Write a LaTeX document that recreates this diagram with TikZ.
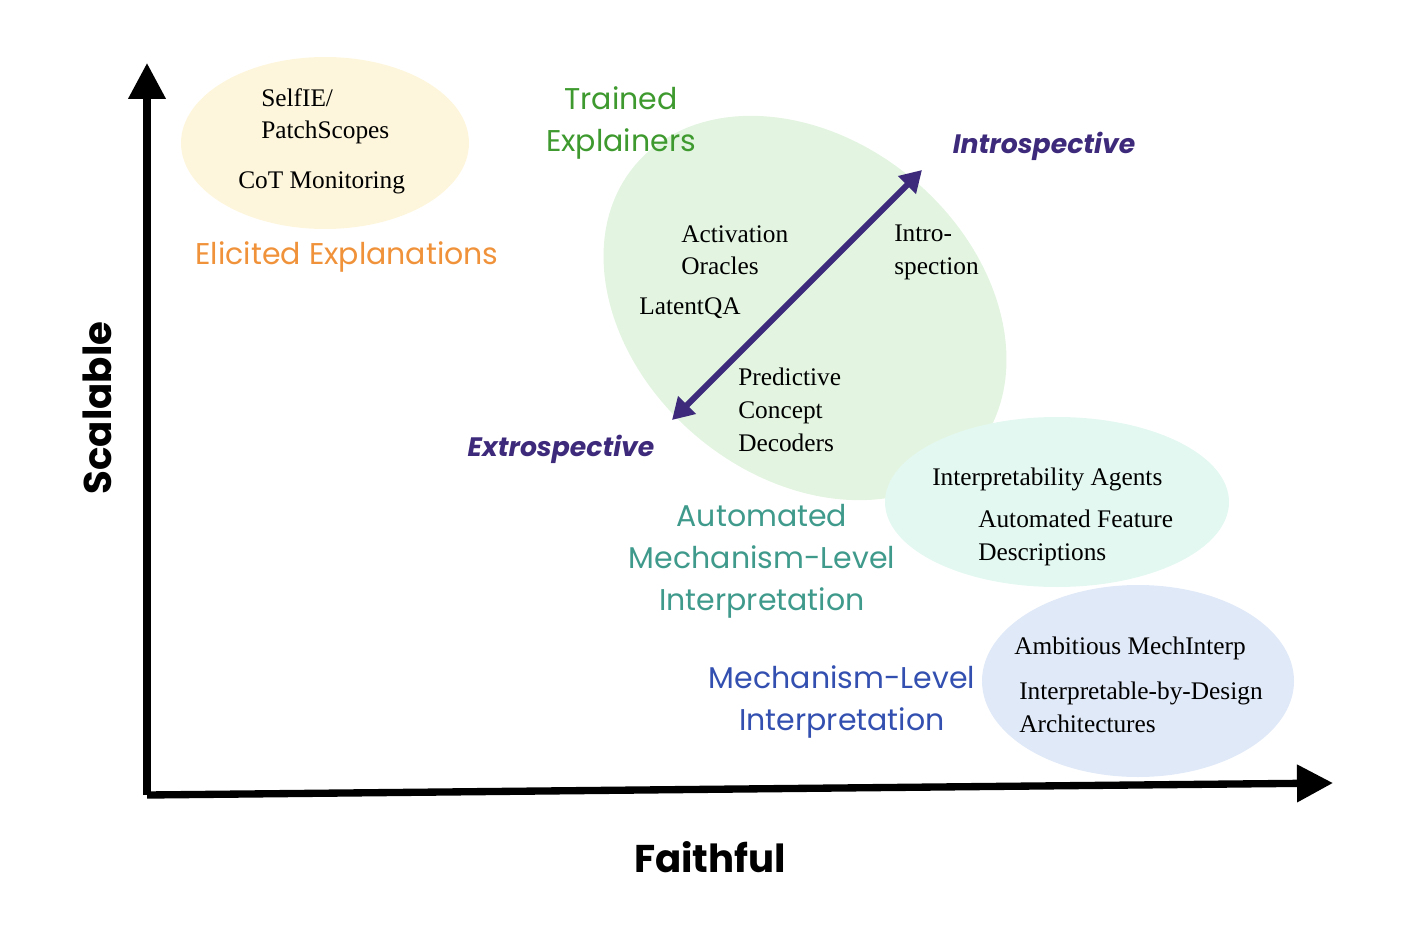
\documentclass[tikz,border=0pt]{standalone}
\usepackage{fontspec}
\setmainfont{Liberation Serif}
\newfontfamily\lab{Poppins}
\usetikzlibrary{arrows.meta}
\definecolor{orng}{HTML}{F0923A}
\definecolor{grn}{HTML}{3E9A2E}
\definecolor{teal1}{HTML}{3F9A8C}
\definecolor{blu}{HTML}{3350B0}
\definecolor{purp}{HTML}{3D2A7A}
\tikzset{
 ser/.style={font=\fontsize{19}{24.5}\selectfont,align=left,anchor=north west,inner sep=0pt},
 cat/.style={font=\lab\fontsize{22.5}{31.5}\selectfont,align=center,inner sep=0pt},
 pole/.style={font=\lab\bfseries\itshape\fontsize{20}{24}\selectfont,text=purp,inner sep=0pt},
 axis/.style={line width=5.5pt,-{Triangle[length=27pt,width=27pt]}},
}
\begin{document}
\begin{tikzpicture}[x=0.75pt,y=-0.75pt]
\useasboundingbox (0,0) rectangle (1401,930);
\fill[fill={rgb,255:red,253;green,246;blue,220}] (325,143) ellipse [x radius=144,y radius=86];
\fill[fill={rgb,255:red,227;green,245;blue,225},rotate around={-40:(805,308)}] (805,308) ellipse [x radius=222,y radius=168];
\fill[fill={rgb,255:red,227;green,248;blue,240}] (1057,502) ellipse [x radius=172,y radius=85];
\fill[fill={rgb,255:red,224;green,233;blue,247}] (1138,681) ellipse [x radius=156,y radius=96];
\coordinate (o) at (147,795);
\coordinate (yt) at (147,63);
\coordinate (xt) at (1333,783);
\draw[axis] (o) -- (yt);
\draw[axis] (o) -- (xt);
\node[font=\lab\bfseries\fontsize{29}{34}\selectfont] (fx) at (710,857) {Faithful};
\node[font=\lab\bfseries\fontsize{29}{34}\selectfont,rotate=90] (sy) at (97,408) {Scalable};
\node[ser] (s1) at (261,88) {SelfIE/\\PatchScopes};
\node[ser] (s2) at (238,171) {CoT Monitoring};
\node[cat,text=orng] (c1) at (347,257) {Elicited Explanations};
\node[cat,text=grn] (c2) at (621,123) {Trained\\Explainers};
\node[ser] (s3) at (681,225) {Activation\\Oracles};
\node[ser] (s4) at (639,297) {LatentQA};
\node[ser] (s5) at (894,225) {Intro-\\spection};
\node[ser] (s6) at (738,368) {Predictive\\Concept\\Decoders};
\node[pole] (p1) at (1044,146) {Introspective};
\node[pole] (p2) at (561,449) {Extrospective};
\coordinate (a1) at (672,420);
\coordinate (a2) at (922,170);
\draw[line width=4.5pt,purp,{Triangle[length=16pt,width=18pt]}-{Triangle[length=16pt,width=18pt]}] (a1) -- (a2);
\node[cat,text=teal1] (c3) at (762,561) {Automated\\Mechanism-Level\\Interpretation};
\node[ser] (s7) at (932,468) {Interpretability Agents};
\node[ser] (s8) at (978,510) {Automated Feature\\Descriptions};
\node[cat,text=blu] (c4) at (842,702) {Mechanism-Level\\Interpretation};
\node[ser] (s9) at (1014,637) {Ambitious MechInterp};
\node[ser] (s10) at (1019,682) {Interpretable-by-Design\\Architectures};
\end{tikzpicture}
\end{document}
